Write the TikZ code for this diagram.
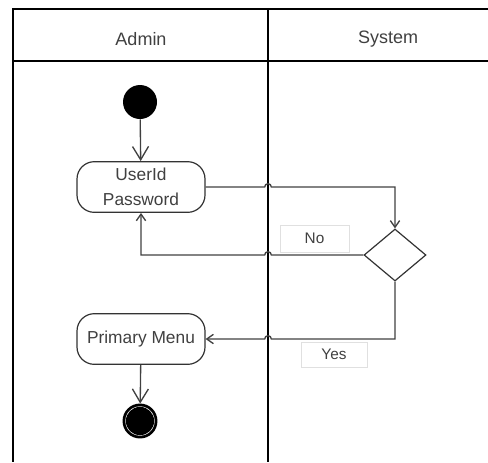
\documentclass[tikz,border=0pt]{standalone}
\usepackage{fontspec}
\setmainfont{Liberation Sans}
\usetikzlibrary{calc}
\usetikzlibrary{arrows.meta}
\usetikzlibrary{shapes.geometric}
\tikzset{
	startstyle/.style={circle,fill=black,minimum size=25.5pt,inner sep=0pt},
	endstyle/.style={circle,draw=black,line width=1.2pt,fill=black,minimum size=25pt,inner sep=0pt},
	actstyle/.style={rectangle,rounded corners=13pt,draw=black!80,line width=0.9pt,fill=white,minimum width=96pt,minimum height=38pt,align=center,text=black!75,font=\fontsize{13}{18.5}\selectfont},
	decstyle/.style={diamond,draw=black!80,line width=0.9pt,fill=white,minimum width=46.5pt,minimum height=39pt,inner sep=0pt,aspect=1.2},
	guardstyle/.style={rectangle,draw=black!12,line width=0.5pt,text=black!75,font=\fontsize{11.5}{13}\selectfont},
	lanestyle/.style={text=black!75,font=\fontsize{13.5}{15}\selectfont},
	flowstyle/.style={draw=black!75,line width=1pt,-{Straight Barb[length=5pt,width=7pt]}},
	bigtip/.style={-{Straight Barb[length=10pt,width=12pt]}}
}

\begin{document}
\begin{tikzpicture}[x=0.75pt,y=-0.75pt]
	\useasboundingbox (0,0) rectangle (488,462);
	% swimlanes
	\draw[line width=1.2pt] (488,9) -- (13,9) -- (13,462);
	\draw[line width=1.2pt] (13,61) -- (488,61);
	\draw[line width=1.2pt] (268,9) -- (268,462);
	\coordinate (lane) at (268,9);
	\node[lanestyle] (admin) at (141,39) {Admin};
	\node[lanestyle] (system) at (388,39) {System};
	% nodes
	\node[startstyle] (start) at (140,102) {};
	\node[actstyle] (login) at (141,187) {UserId\\Password};
	\node[decstyle] (check) at (395,255) {};
	\node[actstyle] (menu) at (141,339) {Primary Menu};
	\node[endstyle] (stop) at (140,421) {};
	\fill[white] (stop) circle[radius=11pt];
	\fill[black] (stop) circle[radius=10.6pt];
	\node[guardstyle,minimum width=52pt,minimum height=20pt] (no) at (314.5,238.5) {No};
	\node[guardstyle,minimum width=49.5pt,minimum height=19pt] (yes) at (334,354.5) {Yes};
	% flows
	\draw[flowstyle,bigtip] (start)--(login);
	\draw[flowstyle] (login.east) -- ($(login.east -| lane)+(-2.5pt,0)$) arc[start angle=180,end angle=0,radius=2.5pt] -| (check.north);
	\draw[flowstyle] (check.west) -- ($(check.west -| lane)+(2.5pt,0)$) arc[start angle=0,end angle=180,radius=2.5pt] -| (login.south);
	\draw[flowstyle] (check.south) |- ($(menu.east -| lane)+(2.5pt,0)$) arc[start angle=0,end angle=180,radius=2.5pt] -- (menu.east);
	\draw[flowstyle,bigtip] (menu)--(stop);
	\end{tikzpicture}
\end{document}
